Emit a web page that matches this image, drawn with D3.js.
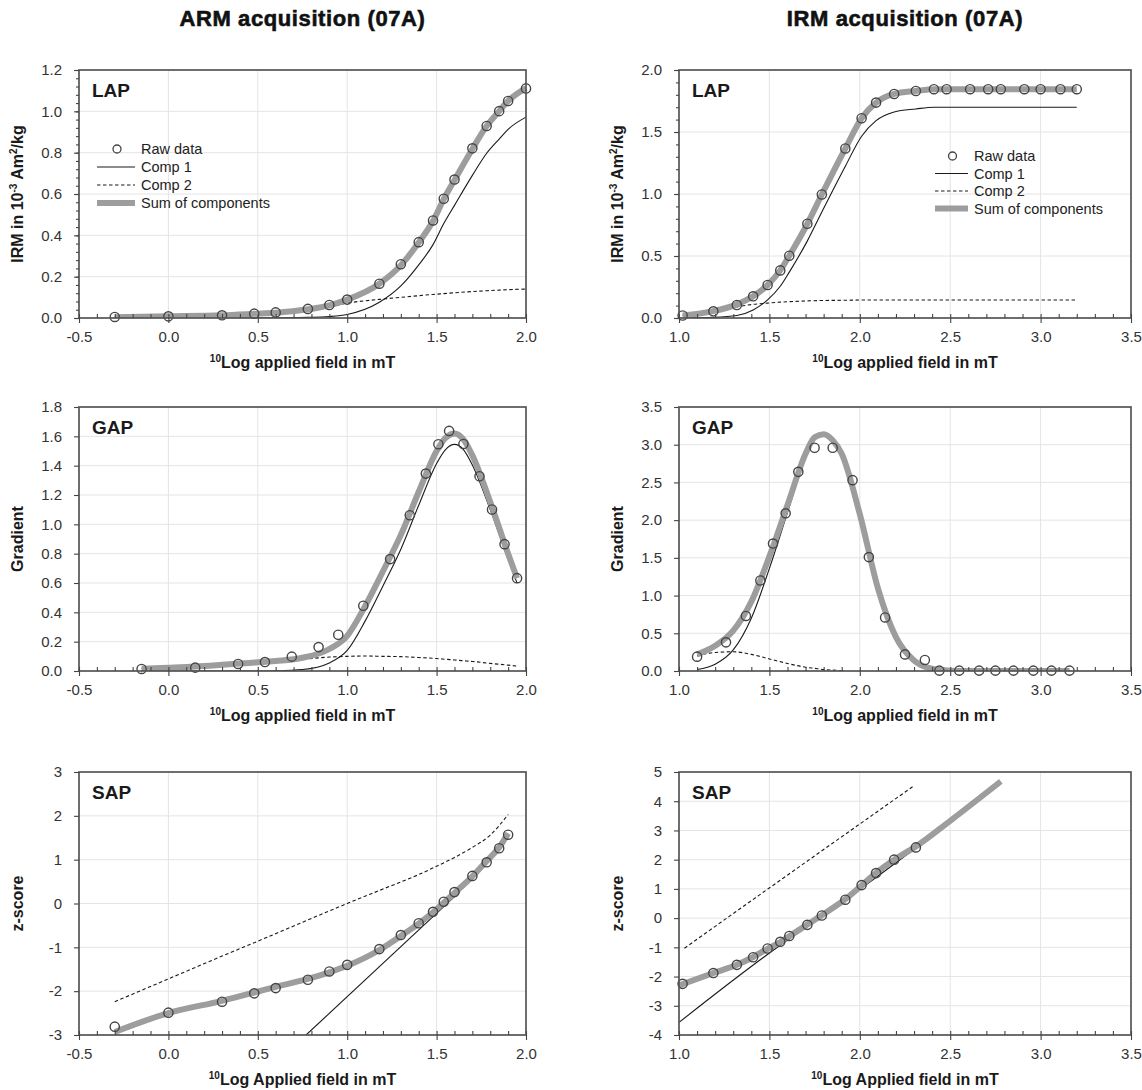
<!DOCTYPE html>
<html>
<head>
<meta charset="utf-8">
<script src="https://cdn.jsdelivr.net/npm/d3@7"></script>
<style>
  html, body { margin: 0; padding: 0; background: #fff; }
  svg { display: block; font-family: "Liberation Sans", Arial, Helvetica, sans-serif; }
</style>
</head>
<body>
<svg id="chart" width="1142" height="1090"></svg>
<script>
// ---------- ARM acquisition (07A) ----------
// LAP: linear acquisition plot
const armLapField = [-0.3, 0.0, 0.3, 0.48, 0.6, 0.78, 0.9, 1.0, 1.18, 1.3, 1.4, 1.48, 1.54, 1.6, 1.7, 1.78, 1.85, 1.9, 2.0];
const armLapRaw   = [0.005, 0.008, 0.013, 0.021, 0.027, 0.044, 0.063, 0.089, 0.166, 0.26, 0.367, 0.472, 0.577, 0.67, 0.821, 0.929, 1.001, 1.05, 1.111];
const armLapComp1 = [0, 0, 0, 0, 0.001, 0.003, 0.007, 0.017, 0.076, 0.155, 0.257, 0.355, 0.457, 0.545, 0.69, 0.797, 0.866, 0.913, 0.972];
const armLapComp2 = [0.003, 0.008, 0.013, 0.019, 0.024, 0.039, 0.054, 0.072, 0.09, 0.1, 0.108, 0.114, 0.118, 0.122, 0.128, 0.132, 0.135, 0.137, 0.14];
const armLapSum   = [0.004, 0.008, 0.013, 0.02, 0.025, 0.042, 0.061, 0.089, 0.166, 0.255, 0.365, 0.469, 0.575, 0.667, 0.818, 0.929, 1.001, 1.05, 1.112];

// GAP: gradient acquisition plot
const armGapField = [-0.15, 0.15, 0.39, 0.54, 0.69, 0.84, 0.95, 1.09, 1.24, 1.35, 1.44, 1.51, 1.57, 1.65, 1.74, 1.81, 1.88, 1.95];
const armGapRaw   = [0.014, 0.023, 0.048, 0.061, 0.098, 0.163, 0.247, 0.445, 0.763, 1.062, 1.346, 1.546, 1.637, 1.548, 1.328, 1.101, 0.865, 0.633];
const armGapCurveField = [-0.15, 0.0, 0.15, 0.3, 0.45, 0.6, 0.75, 0.9, 1.0, 1.1, 1.2, 1.3, 1.4, 1.5, 1.55, 1.6, 1.65, 1.7, 1.8, 1.9, 1.95];
const armGapComp1 = [0, 0, 0, 0, 0, 0.002, 0.01, 0.055, 0.14, 0.34, 0.58, 0.83, 1.13, 1.415, 1.51, 1.545, 1.51, 1.405, 1.1, 0.76, 0.6];
const armGapComp2 = [0.015, 0.022, 0.03, 0.042, 0.055, 0.066, 0.08, 0.095, 0.1, 0.102, 0.1, 0.098, 0.092, 0.085, 0.08, 0.075, 0.07, 0.065, 0.052, 0.04, 0.033];
const armGapSum   = [0.015, 0.022, 0.03, 0.042, 0.055, 0.068, 0.09, 0.15, 0.24, 0.442, 0.68, 0.928, 1.222, 1.5, 1.59, 1.62, 1.58, 1.47, 1.152, 0.8, 0.633];

// SAP: standardized acquisition plot
const armSapField = [-0.3, 0.0, 0.3, 0.48, 0.6, 0.78, 0.9, 1.0, 1.18, 1.3, 1.4, 1.48, 1.54, 1.6, 1.7, 1.78, 1.85, 1.9];
const armSapRaw   = [-2.81, -2.49, -2.24, -2.05, -1.93, -1.74, -1.55, -1.40, -1.04, -0.72, -0.45, -0.19, 0.04, 0.26, 0.63, 0.94, 1.26, 1.57];
const armSapSum   = [-2.93, -2.5, -2.22, -2.03, -1.9, -1.72, -1.57, -1.42, -1.06, -0.74, -0.46, -0.2, 0.02, 0.24, 0.62, 0.97, 1.28, 1.6];
const armSapComp1Field = [0.77, 1.63];
const armSapComp1 = [-3.0, 0.27];
const armSapComp2Field = [-0.3, 0.0, 0.3, 0.5, 1.0, 1.2, 1.4, 1.5, 1.6, 1.7, 1.8, 1.9];
const armSapComp2 = [-2.24, -1.72, -1.2, -0.86, 0.0, 0.33, 0.66, 0.85, 1.05, 1.28, 1.56, 2.03];

// ---------- IRM acquisition (07A) ----------
const irmLapField = [1.02, 1.19, 1.32, 1.41, 1.49, 1.56, 1.61, 1.71, 1.79, 1.92, 2.01, 2.09, 2.19, 2.31, 2.41, 2.48, 2.61, 2.71, 2.78, 2.91, 3.0, 3.11, 3.2];
const irmLapRaw   = [0.02, 0.054, 0.105, 0.175, 0.266, 0.384, 0.502, 0.76, 0.996, 1.367, 1.611, 1.737, 1.807, 1.831, 1.845, 1.845, 1.845, 1.845, 1.845, 1.845, 1.845, 1.845, 1.845];
const irmLapComp1 = [0.0, 0.005, 0.02, 0.065, 0.146, 0.256, 0.37, 0.622, 0.855, 1.224, 1.466, 1.592, 1.662, 1.686, 1.7, 1.7, 1.7, 1.7, 1.7, 1.7, 1.7, 1.7, 1.7];
const irmLapComp2 = [0.02, 0.05, 0.09, 0.11, 0.12, 0.128, 0.132, 0.138, 0.141, 0.143, 0.145, 0.145, 0.145, 0.145, 0.145, 0.145, 0.145, 0.145, 0.145, 0.145, 0.145, 0.145, 0.145];
const irmLapSum   = [0.02, 0.055, 0.11, 0.175, 0.266, 0.384, 0.502, 0.76, 0.996, 1.367, 1.611, 1.737, 1.807, 1.831, 1.845, 1.845, 1.845, 1.845, 1.845, 1.845, 1.845, 1.845, 1.845];

const irmGapField = [1.1, 1.26, 1.37, 1.45, 1.52, 1.59, 1.66, 1.75, 1.85, 1.96, 2.05, 2.14, 2.25, 2.36, 2.44, 2.55, 2.66, 2.75, 2.85, 2.96, 3.06, 3.16];
const irmGapRaw   = [0.19, 0.38, 0.73, 1.2, 1.69, 2.09, 2.64, 2.96, 2.96, 2.53, 1.51, 0.71, 0.22, 0.146, 0.005, 0.005, 0.005, 0.005, 0.005, 0.005, 0.005, 0.005];
const irmGapCurveField = [1.1, 1.2, 1.3, 1.4, 1.5, 1.6, 1.7, 1.75, 1.8, 1.85, 1.9, 2.0, 2.1, 2.2, 2.3, 2.4, 2.5, 2.6, 2.8, 3.0, 3.16];
const irmGapComp1 = [0.02, 0.09, 0.28, 0.7, 1.36, 2.1, 2.83, 3.065, 3.12, 3.048, 2.875, 2.08, 1.1, 0.45, 0.14, 0.03, 0.005, 0, 0, 0, 0];
const irmGapComp2 = [0.2, 0.245, 0.255, 0.22, 0.16, 0.1, 0.05, 0.035, 0.02, 0.012, 0.005, null, null, null, null, null, null, null, null, null, null];
const irmGapSum   = [0.22, 0.335, 0.535, 0.92, 1.52, 2.2, 2.88, 3.1, 3.14, 3.06, 2.88, 2.08, 1.1, 0.45, 0.14, 0.03, 0.005, 0, 0, 0, 0];

const irmSapField = [1.02, 1.19, 1.32, 1.41, 1.49, 1.56, 1.61, 1.71, 1.79, 1.92, 2.01, 2.09, 2.19, 2.31];
const irmSapRaw   = [-2.25, -1.88, -1.60, -1.34, -1.04, -0.81, -0.61, -0.23, 0.09, 0.63, 1.13, 1.54, 2.0, 2.42];
const irmSapSumField = [1.0, 1.19, 1.32, 1.41, 1.49, 1.56, 1.61, 1.71, 1.79, 1.92, 2.01, 2.09, 2.19, 2.31, 2.5, 2.78];
const irmSapSum   = [-2.3, -1.88, -1.6, -1.33, -1.05, -0.82, -0.62, -0.22, 0.1, 0.65, 1.12, 1.55, 2.0, 2.45, 3.33, 4.68];
const irmSapComp1Field = [1.0, 1.56, 1.75, 2.78];
const irmSapComp1 = [-3.57, -0.93, -0.12, 4.6];
const irmSapComp2Field = [1.03, 1.49, 2.3];
const irmSapComp2 = [-1.03, 0.99, 4.53];

// ---------- axis ticks ----------
const armXTicks = [-0.5, 0.0, 0.5, 1.0, 1.5, 2.0];
const irmXTicks = [1.0, 1.5, 2.0, 2.5, 3.0, 3.5];
const armLapYTicks = [0.0, 0.2, 0.4, 0.6, 0.8, 1.0, 1.2];
const irmLapYTicks = [0.0, 0.5, 1.0, 1.5, 2.0];
const armGapYTicks = [0.0, 0.2, 0.4, 0.6, 0.8, 1.0, 1.2, 1.4, 1.6, 1.8];
const irmGapYTicks = [0.0, 0.5, 1.0, 1.5, 2.0, 2.5, 3.0, 3.5];
const armSapYTicks = [-3, -2, -1, 0, 1, 2, 3];
const irmSapYTicks = [-4, -3, -2, -1, 0, 1, 2, 3, 4, 5];

const columnTitles = ["ARM acquisition (07A)", "IRM acquisition (07A)"];
const legendLabels = ["Raw data", "Comp 1", "Comp 2", "Sum of components"];

// ---------- layout ----------
const svg = d3.select("#chart");
const cols = [{ x0: 79, x1: 526 }, { x0: 679, x1: 1131 }];
const rows = [{ top: 70, bottom: 318 }, { top: 407, bottom: 671 }, { top: 772, bottom: 1035 }];

const SUM_COLOR = "#9d9d9d";
const INK = "#1a1a1a";

const fix1 = d => d.toFixed(1);
const intFmt = d => String(d);

function series(xs, ys) { return xs.map((v, i) => [v, ys[i]]); }

function drawPanel(p) {
  const c = cols[p.col], r = rows[p.row];
  const x = d3.scaleLinear().domain([p.xTicks[0], p.xTicks[p.xTicks.length - 1]]).range([c.x0, c.x1]);
  const y = d3.scaleLinear().domain([p.yTicks[0], p.yTicks[p.yTicks.length - 1]]).range([r.bottom, r.top]);
  const g = svg.append("g");

  // light grid at major ticks
  g.append("g").selectAll("line").data(p.xTicks.slice(1, -1)).join("line")
    .attr("x1", d => x(d)).attr("x2", d => x(d)).attr("y1", r.top).attr("y2", r.bottom)
    .attr("stroke", "#e4e4e4").attr("stroke-width", 1);
  g.append("g").selectAll("line").data(p.yTicks.slice(1, -1)).join("line")
    .attr("y1", d => y(d)).attr("y2", d => y(d)).attr("x1", c.x0).attr("x2", c.x1)
    .attr("stroke", "#e4e4e4").attr("stroke-width", 1);

  const clipId = "clip-" + p.row + "-" + p.col;
  svg.append("clipPath").attr("id", clipId).append("rect")
    .attr("x", c.x0).attr("y", r.top - 4).attr("width", c.x1 - c.x0 + 4).attr("height", r.bottom - r.top + 4);
  const plot = g.append("g").attr("clip-path", `url(#${clipId})`);

  const line = d3.line()
    .defined(d => d[1] != null)
    .x(d => x(d[0])).y(d => y(d[1]))
    .curve(d3.curveMonotoneX);

  plot.append("path").datum(p.comp1).attr("d", line)
    .attr("fill", "none").attr("stroke", INK).attr("stroke-width", 1.1);
  plot.append("path").datum(p.comp2).attr("d", line)
    .attr("fill", "none").attr("stroke", INK).attr("stroke-width", 1.1).attr("stroke-dasharray", "3.5,2.5");
  plot.append("path").datum(p.sum).attr("d", line)
    .attr("fill", "none").attr("stroke", SUM_COLOR).attr("stroke-width", 6).attr("stroke-linejoin", "round");

  g.append("g").selectAll("circle").data(p.raw).join("circle")
    .attr("cx", d => x(d[0])).attr("cy", d => y(d[1])).attr("r", 4.6)
    .attr("fill", "none").attr("stroke", "#444").attr("stroke-width", 1.4);

  // frame
  g.append("rect").attr("x", c.x0).attr("y", r.top)
    .attr("width", c.x1 - c.x0).attr("height", r.bottom - r.top)
    .attr("fill", "none").attr("stroke", "#555").attr("stroke-width", 1.7);

  // x axis: major ticks with labels, minor ticks every 0.1
  const xMinor = d3.range(Math.round(p.xTicks[0] * 10), Math.round(p.xTicks[p.xTicks.length - 1] * 10) + 1).map(v => v / 10);
  g.append("g").attr("transform", `translate(0,${r.bottom})`)
    .call(d3.axisBottom(x).tickValues(p.xTicks).tickSize(5).tickPadding(8).tickFormat(fix1));
  g.append("g").attr("transform", `translate(0,${r.bottom})`)
    .call(d3.axisBottom(x).tickValues(xMinor).tickSize(-4).tickFormat(""));

  g.append("g").attr("transform", `translate(${c.x0},0)`)
    .call(d3.axisLeft(y).tickValues(p.yTicks).tickSize(5).tickPadding(12).tickFormat(p.yFormat));
  if (p.yMinorStep) {
    const n = Math.round((p.yTicks[p.yTicks.length - 1] - p.yTicks[0]) / p.yMinorStep);
    const yMinor = d3.range(n + 1).map(i => p.yTicks[0] + i * p.yMinorStep);
    g.append("g").attr("transform", `translate(${c.x0},0)`)
      .call(d3.axisLeft(y).tickValues(yMinor).tickSize(3).tickFormat(""));
  }

  g.selectAll(".domain").remove();
  g.selectAll(".tick line").attr("stroke", "#444").attr("stroke-width", 1.1);
  g.selectAll(".tick text").attr("font-size", 15).attr("fill", "#333")
    .attr("font-family", '"Liberation Sans", Arial, sans-serif');

  // panel label
  g.append("text").attr("x", c.x0 + 13).attr("y", r.top + 27)
    .attr("font-size", 19).attr("font-weight", "bold").attr("fill", INK).text(p.label);

  // x axis title with leading superscript 10
  const xt = g.append("text").attr("x", (c.x0 + c.x1) / 2).attr("y", r.bottom + 50)
    .attr("text-anchor", "middle").attr("font-size", 16).attr("font-weight", "bold").attr("fill", INK);
  xt.append("tspan").attr("font-size", 10).attr("dy", -6).text("10");
  xt.append("tspan").attr("dy", 6).text(p.xTitle);

  // y axis title
  const yt = g.append("text")
    .attr("transform", `translate(${c.x0 - 56},${(r.top + r.bottom) / 2}) rotate(-90)`)
    .attr("text-anchor", "middle").attr("font-size", 16).attr("font-weight", "bold").attr("fill", INK);
  p.yTitle.forEach(part => {
    const t = yt.append("tspan").text(part.t);
    if (part.sup) t.attr("font-size", 10).attr("dy", -6);
    else if (part.after) t.attr("dy", 6);
  });

  return { x, y };
}

const irmUnit = [
  { t: "IRM in 10" }, { t: "-3", sup: true }, { t: " Am", after: true }, { t: "2", sup: true }, { t: "/kg", after: true }
];

const panels = [
  { col: 0, row: 0, label: "LAP", xTicks: armXTicks, yTicks: armLapYTicks, yFormat: fix1, yMinorStep: 0.04,
    raw: series(armLapField, armLapRaw), comp1: series(armLapField, armLapComp1),
    comp2: series(armLapField, armLapComp2), sum: series(armLapField, armLapSum),
    xTitle: "Log applied field in mT", yTitle: irmUnit },
  { col: 1, row: 0, label: "LAP", xTicks: irmXTicks, yTicks: irmLapYTicks, yFormat: fix1, yMinorStep: 0.1,
    raw: series(irmLapField, irmLapRaw), comp1: series(irmLapField, irmLapComp1),
    comp2: series(irmLapField, irmLapComp2), sum: series(irmLapField, irmLapSum),
    xTitle: "Log applied field in mT", yTitle: irmUnit },
  { col: 0, row: 1, label: "GAP", xTicks: armXTicks, yTicks: armGapYTicks, yFormat: fix1,
    raw: series(armGapField, armGapRaw), comp1: series(armGapCurveField, armGapComp1),
    comp2: series(armGapCurveField, armGapComp2), sum: series(armGapCurveField, armGapSum),
    xTitle: "Log applied field in mT", yTitle: [{ t: "Gradient" }] },
  { col: 1, row: 1, label: "GAP", xTicks: irmXTicks, yTicks: irmGapYTicks, yFormat: fix1,
    raw: series(irmGapField, irmGapRaw), comp1: series(irmGapCurveField, irmGapComp1),
    comp2: series(irmGapCurveField, irmGapComp2), sum: series(irmGapCurveField, irmGapSum),
    xTitle: "Log applied field in mT", yTitle: [{ t: "Gradient" }] },
  { col: 0, row: 2, label: "SAP", xTicks: armXTicks, yTicks: armSapYTicks, yFormat: intFmt,
    raw: series(armSapField, armSapRaw), comp1: series(armSapComp1Field, armSapComp1),
    comp2: series(armSapComp2Field, armSapComp2), sum: series(armSapField, armSapSum),
    xTitle: "Log Applied field in mT", yTitle: [{ t: "z-score" }] },
  { col: 1, row: 2, label: "SAP", xTicks: irmXTicks, yTicks: irmSapYTicks, yFormat: intFmt,
    raw: series(irmSapField, irmSapRaw), comp1: series(irmSapComp1Field, irmSapComp1),
    comp2: series(irmSapComp2Field, irmSapComp2), sum: series(irmSapSumField, irmSapSum),
    xTitle: "Log Applied field in mT", yTitle: [{ t: "z-score" }] }
];

panels.forEach(drawPanel);

// column titles, set in a heavy face
columnTitles.forEach((t, i) => {
  svg.append("text").attr("x", (cols[i].x0 + cols[i].x1) / 2).attr("y", 26)
    .attr("text-anchor", "middle").attr("font-size", 22).attr("font-weight", "bold")
    .attr("letter-spacing", 0.6)
    .attr("fill", "#111").attr("stroke", "#111").attr("stroke-width", 0.6)
    .text(t);
});

// legends in the two LAP panels
function drawLegend(lx0, lx1, cy0, step) {
  const lg = svg.append("g");
  const ys = legendLabels.map((_, i) => cy0 + i * step);
  lg.append("circle").attr("cx", (lx0 + lx1) / 2 + 1).attr("cy", ys[0]).attr("r", 4)
    .attr("fill", "none").attr("stroke", "#444").attr("stroke-width", 1.3);
  lg.append("line").attr("x1", lx0).attr("x2", lx1).attr("y1", ys[1]).attr("y2", ys[1])
    .attr("stroke", INK).attr("stroke-width", 1.1);
  lg.append("line").attr("x1", lx0).attr("x2", lx1).attr("y1", ys[2]).attr("y2", ys[2])
    .attr("stroke", INK).attr("stroke-width", 1.1).attr("stroke-dasharray", "3.5,2.5");
  lg.append("line").attr("x1", lx0).attr("x2", lx1).attr("y1", ys[3]).attr("y2", ys[3])
    .attr("stroke", SUM_COLOR).attr("stroke-width", 6);
  lg.selectAll("text").data(legendLabels).join("text")
    .attr("x", lx1 + 6).attr("y", (d, i) => ys[i] + 5)
    .attr("font-size", 14.5).attr("fill", "#222").text(d => d);
}
drawLegend(97, 135, 149, 18);
drawLegend(935, 968, 156, 17.5);
</script>
</body>
</html>
